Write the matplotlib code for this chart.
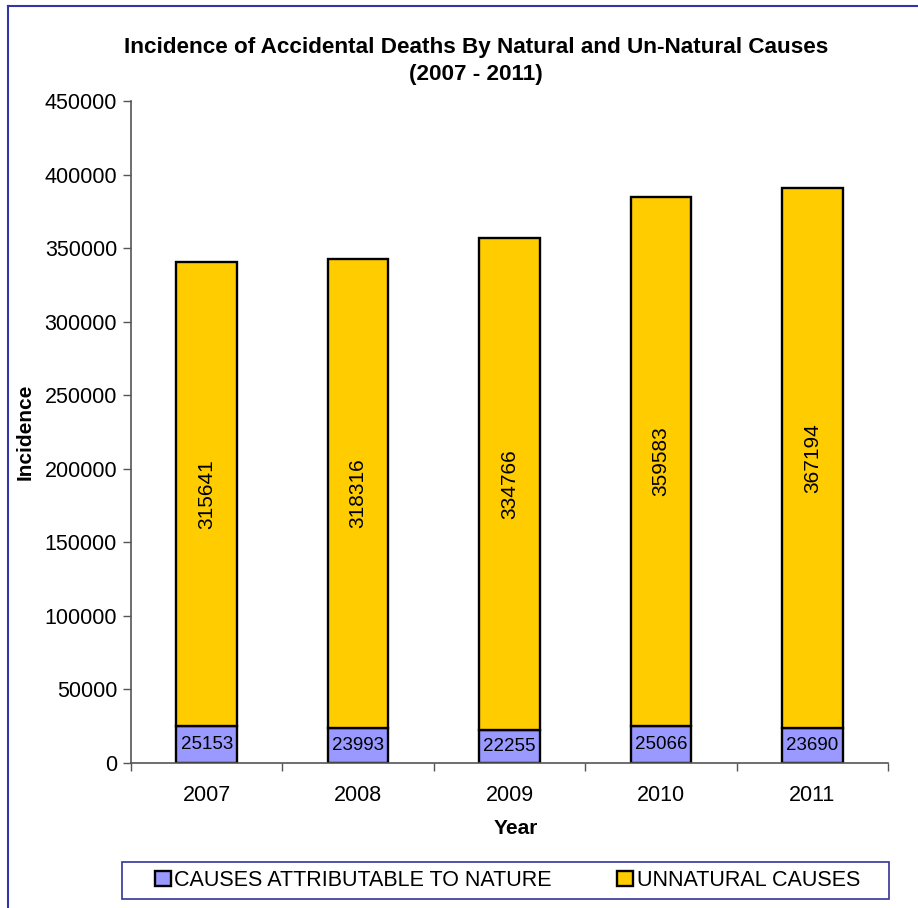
import numpy as np
import matplotlib
matplotlib.use("Agg")
import matplotlib.pyplot as plt
from matplotlib.lines import Line2D
from matplotlib.patches import Rectangle

plt.rcParams['font.family'] = ['Liberation Sans', 'DejaVu Sans']

years = ['2007', '2008', '2009', '2010', '2011']
nature = [25153, 23993, 22255, 25066, 23690]
unnatural = [315641, 318316, 334766, 359583, 367194]
yticks = [0, 50000, 100000, 150000, 200000, 250000, 300000, 350000, 400000, 450000]

fig = plt.figure(figsize=(9.18, 9.08), dpi=100)
ax = fig.add_axes([0.1427, 0.1597, 0.8246, 0.7291])

x = np.arange(len(years))
b1 = ax.bar(x, nature, width=0.4, color='#9999FF', edgecolor='black', linewidth=1.7,
            label='CAUSES ATTRIBUTABLE TO NATURE')
b2 = ax.bar(x, unnatural, width=0.4, bottom=nature, color='#FFCC00', edgecolor='black',
            linewidth=1.7, label='UNNATURAL CAUSES')

for i in range(len(years)):
    ax.text(x[i], nature[i] / 2, str(nature[i]), ha='center', va='center', fontsize=13.5)
    ax.text(x[i], nature[i] + unnatural[i] / 2, str(unnatural[i]), ha='center', va='center',
            fontsize=15, rotation=90)

ax.set_xlim(-0.5, 4.5)
ax.set_ylim(0, 450000)
ax.set_yticks(yticks)
ax.set_yticklabels([str(v) for v in yticks], fontsize=15.5)
ax.set_xticks(x)
ax.set_xticklabels(years, fontsize=15.5)
ax.set_xticks(np.arange(-0.5, 5, 1), minor=True)
ax.tick_params(axis='x', which='major', length=0, pad=16)
ax.tick_params(axis='x', which='minor', length=6, width=1, color='#555555', direction='out')
ax.tick_params(axis='y', length=6, width=1, color='#555555', direction='out', pad=4)

for s in ['top', 'right']:
    ax.spines[s].set_visible(False)
for s in ['left', 'bottom']:
    ax.spines[s].set_color('#555555')
    ax.spines[s].set_linewidth(1.2)

# axis labels and title placed like the original
fig.text(516 / 918, 1 - 828 / 908, 'Year', fontsize=15, fontweight='bold', ha='center', va='center')
fig.text(25 / 918, 1 - 432 / 908, 'Incidence', fontsize=15, fontweight='bold', ha='center',
         va='center', rotation=90)
fig.text(476 / 918, 1 - 61 / 908,
         'Incidence of Accidental Deaths By Natural and Un-Natural Causes\n(2007 - 2011)',
         fontsize=16.2, fontweight='bold', ha='center', va='center', linespacing=1.4)

# legend with a hand drawn box
leg = fig.legend(handles=[b1, b2], loc='center left',
                 bbox_to_anchor=(155 / 918, 1 - 899 / 908, 705 / 918, 37 / 908),
                 mode='expand', ncol=2, fontsize=15.5, frameon=False,
                 handlelength=0.75, handleheight=0.75, handletextpad=0.15, borderpad=0,
                 borderaxespad=0)
fig.add_artist(Rectangle((122 / 918, 1 - 899 / 908), 767 / 918, 37 / 908, transform=fig.transFigure,
                         fill=False, edgecolor='#333399', linewidth=1.2))

# figure border (left and top)
fig.add_artist(Line2D([0.009, 0.009], [0, 0.993], color='#3333AA', linewidth=1.5))
fig.add_artist(Line2D([0.009, 1.0], [0.993, 0.993], color='#3333AA', linewidth=1.5))

fig.savefig('out.png', dpi=100)
